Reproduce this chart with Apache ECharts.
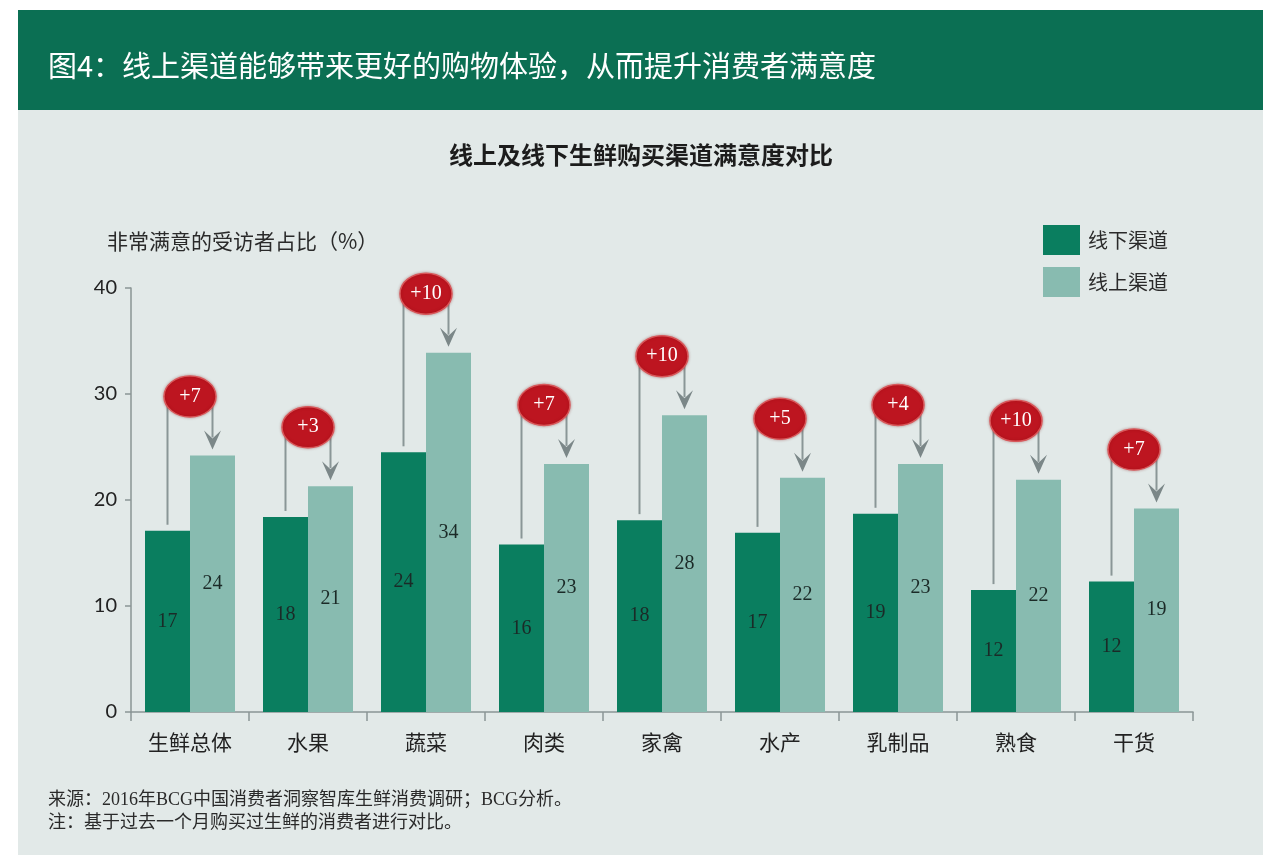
<!DOCTYPE html>
<html>
<head>
<meta charset="utf-8">
<script src="https://cdn.jsdelivr.net/npm/echarts@6/dist/echarts.min.js"></script>
<style>html,body{margin:0;padding:0;background:#fff;}#c{width:1280px;height:862px;}</style>
</head>
<body>
<div id="c"></div>
<script>
const categories = ['生鲜总体','水果','蔬菜','肉类','家禽','水产','乳制品','熟食','干货'];
const offline = [17.1, 18.4, 24.5, 15.8, 18.1, 16.9, 18.7, 11.5, 12.3];
const online  = [24.2, 21.3, 33.9, 23.4, 28.0, 22.1, 23.4, 21.9, 19.2];
const offlineLabels = ['17','18','24','16','18','17','19','12','12'];
const onlineLabels  = ['24','21','34','23','28','22','23','22','19'];
const diffLabels = ['+7','+3','+10','+7','+10','+5','+4','+10','+7'];
const yTicks = [0, 10, 20, 30, 40];
const seriesNames = ['线下渠道','线上渠道'];

const CJK = "'Noto Sans CJK SC', sans-serif";
const SERIF = "'Liberation Serif', 'Noto Sans CJK SC', serif";
const BAR_W = 45;

const chart = echarts.init(document.getElementById('c'), null, {renderer: 'canvas'});

const annoData = categories.map((c, i) => [i, offline[i], online[i]]);

const option = {
  backgroundColor: '#ffffff',
  animation: false,
  graphic: [
    {type: 'rect', shape: {x: 18, y: 10, width: 1245, height: 100}, style: {fill: '#0b6f53'}, z: -10},
    {type: 'rect', shape: {x: 18, y: 110, width: 1245, height: 745}, style: {fill: '#e2e9e8'}, z: -10},
    {type: 'text', x: 48, y: 66, style: {text: '图4：线上渠道能够带来更好的购物体验，从而提升消费者满意度', fill: '#ffffff', font: '29px ' + CJK, verticalAlign: 'middle'}},
    {type: 'text', x: 641, y: 155, style: {text: '线上及线下生鲜购买渠道满意度对比', fill: '#1c1c1c', font: 'bold 24px ' + CJK, align: 'center', verticalAlign: 'middle'}},
    {type: 'text', x: 107, y: 241, style: {text: '非常满意的受访者占比（%）', fill: '#2a2a2a', font: '21px ' + CJK, verticalAlign: 'middle'}},
    {type: 'text', x: 48, y: 800, style: {text: '来源：2016年BCG中国消费者洞察智库生鲜消费调研；BCG分析。', fill: '#2a2a2a', font: '18px ' + SERIF, verticalAlign: 'middle'}},
    {type: 'text', x: 48, y: 823, style: {text: '注：基于过去一个月购买过生鲜的消费者进行对比。', fill: '#2a2a2a', font: '18px ' + SERIF, verticalAlign: 'middle'}}
  ],
  legend: {
    data: seriesNames,
    orient: 'vertical',
    left: 1043,
    top: 225,
    padding: 0,
    itemWidth: 37,
    itemHeight: 30,
    itemGap: 12,
    icon: 'rect',
    textStyle: {fontSize: 20, fontFamily: CJK, color: '#2a2a2a', padding: [0, 0, 0, 3]}
  },
  grid: {left: 131, right: 87, top: 288, bottom: 150, containLabel: false},
  xAxis: {
    type: 'category',
    data: categories,
    axisLine: {lineStyle: {color: '#8a9595', width: 1.5}},
    axisTick: {show: true, length: 9, lineStyle: {color: '#8a9595', width: 1.5}},
    axisLabel: {fontSize: 21, fontFamily: CJK, color: '#222', margin: 20}
  },
  yAxis: {
    type: 'value',
    min: 0, max: 40, interval: 10,
    axisLine: {show: true, lineStyle: {color: '#8a9595', width: 1.5}},
    axisTick: {show: true, length: 6, lineStyle: {color: '#8a9595', width: 1.5}},
    splitLine: {show: false},
    axisLabel: {fontSize: 20, fontFamily: "'Lato', sans-serif", color: '#222', margin: 14,
      formatter: v => yTicks.indexOf(v) >= 0 ? String(v) : ''}
  },
  series: [
    {
      name: seriesNames[0], type: 'bar', data: offline, barWidth: BAR_W, barGap: '0%',
      itemStyle: {color: '#0a7e5f'},
      label: {show: true, position: 'inside', fontSize: 20, fontFamily: SERIF, color: '#1b2a27',
        formatter: p => offlineLabels[p.dataIndex]}
    },
    {
      name: seriesNames[1], type: 'bar', data: online, barWidth: BAR_W, barGap: '0%',
      itemStyle: {color: '#88bbb0'},
      label: {show: true, position: 'inside', fontSize: 20, fontFamily: SERIF, color: '#1b2a27',
        formatter: p => onlineLabels[p.dataIndex]}
    },
    {
      type: 'custom',
      data: annoData,
      encode: {x: 0, y: [1, 2]},
      z: 10,
      renderItem: function (params, api) {
        const i = api.value(0);
        const p1 = api.coord([i, api.value(1)]);
        const p2 = api.coord([i, api.value(2)]);
        const cx = p1[0];
        const xL = cx - BAR_W / 2;
        const xR = cx + BAR_W / 2;
        const ey = p2[1] - 59;
        const tip = p2[1] - 6;
        const grey = '#8a9697';
        return {
          type: 'group',
          children: [
            {type: 'line', shape: {x1: xL, y1: p1[1] - 6, x2: xL, y2: ey}, style: {stroke: grey, lineWidth: 2}},
            {type: 'line', shape: {x1: xR, y1: ey, x2: xR, y2: tip - 12}, style: {stroke: grey, lineWidth: 2}},
            {type: 'polygon', shape: {points: [[xR, tip], [xR - 8.5, tip - 19], [xR, tip - 11], [xR + 8.5, tip - 19]]}, style: {fill: '#7b8788'}},
            {type: 'ellipse', shape: {cx: cx, cy: ey, rx: 26, ry: 20.5},
              style: {fill: '#bd1520', stroke: '#d9575a', lineWidth: 1.5, shadowBlur: 3, shadowColor: 'rgba(120,0,0,0.35)'}},
            {type: 'text', style: {text: diffLabels[params.dataIndex], x: cx, y: ey, align: 'center', verticalAlign: 'middle',
              fill: '#ffffff', font: '20px ' + SERIF}}
          ]
        };
      }
    }
  ]
};
chart.setOption(option);
</script>
</body>
</html>
